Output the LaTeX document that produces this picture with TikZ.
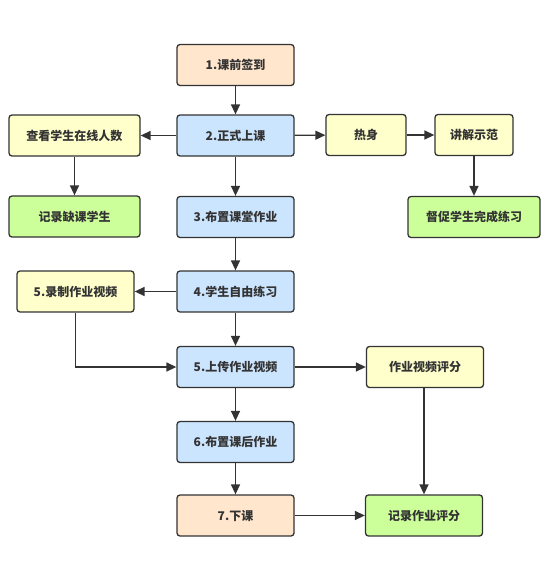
\documentclass[tikz,border=0pt]{standalone}
\usepackage{fontspec}
\setmainfont{Noto Sans CJK SC}
\usepackage{tikz}
\usetikzlibrary{arrows.meta, positioning}

\definecolor{peach}{HTML}{FFE6CC}
\definecolor{skyblue}{HTML}{CCE5FF}
\definecolor{paleyellow}{HTML}{FFFFCC}
\definecolor{palegreen}{HTML}{CCFF99}
\definecolor{edgegray}{HTML}{333333}

\begin{document}
\begin{tikzpicture}[x=1pt, y={(0pt,-1pt)},
    box/.style={draw=edgegray, rounded corners=3pt, line width=1.3pt, minimum width=117pt,
      minimum height=41pt, align=center, font=\fontsize{12}{14}\selectfont\bfseries, text=black!80},
    arrow/.style={-{Triangle[length=10pt, width=9pt]}, draw=edgegray, line width=1.4pt},
]
  \useasboundingbox (0,0) rectangle (550,566);

  % main column
  \node[box, fill=peach] (start) at (235.5,65) {1.课前签到};
  \node[box, fill=skyblue] (lesson) at (235.5,135.5) {2.正式上课};
  \node[box, fill=skyblue] (classwork) at (235.5,217) {3.布置课堂作业};
  \node[box, fill=skyblue] (practice) at (235.5,291.5) {4.学生自由练习};
  \node[box, fill=skyblue] (upload) at (235.5,367) {5.上传作业视频};
  \node[box, fill=skyblue] (homework) at (235.5,442) {6.布置课后作业};
  \node[box, fill=peach] (finish) at (235.5,515.5) {7.下课};

  % left side
  \node[box, fill=paleyellow, minimum width=131pt] (online) at (74.5,135.5) {查看学生在线人数};
  \node[box, fill=palegreen, minimum width=131pt] (absent) at (74.5,216.5) {记录缺课学生};
  \node[box, fill=paleyellow] (record) at (75.5,291.5) {5.录制作业视频};

  % right side
  \node[box, fill=paleyellow, minimum width=80pt] (warmup) at (366,135) {热身};
  \node[box, fill=paleyellow, minimum width=78pt] (demo) at (474,135) {讲解示范};
  \node[box, fill=palegreen, minimum width=132pt] (urge) at (474,217) {督促学生完成练习};
  \node[box, fill=paleyellow] (grade) at (425,367) {作业视频评分};
  \node[box, fill=palegreen] (log) at (424,515.5) {记录作业评分};

  \draw[arrow] (start) -- (lesson);
  \draw[arrow] (lesson) -- (online);
  \draw[arrow] (online) -- (absent);
  \draw[arrow] (lesson) -- (warmup);
  \draw[arrow] (warmup) -- (demo);
  \draw[arrow] (demo) -- (urge);
  \draw[arrow] (lesson) -- (classwork);
  \draw[arrow] (classwork) -- (practice);
  \draw[arrow] (practice) -- (record);
  \draw[arrow] (practice) -- (upload);
  \draw[arrow] (record.south) |- (upload.west);
  \draw[arrow] (upload) -- (grade);
  \draw[arrow] (upload) -- (homework);
  \draw[arrow] (homework) -- (finish);
  \draw[arrow] (grade.south -| log.north) -- (log.north);
  \draw[arrow] (finish) -- (log);
\end{tikzpicture}
\end{document}
